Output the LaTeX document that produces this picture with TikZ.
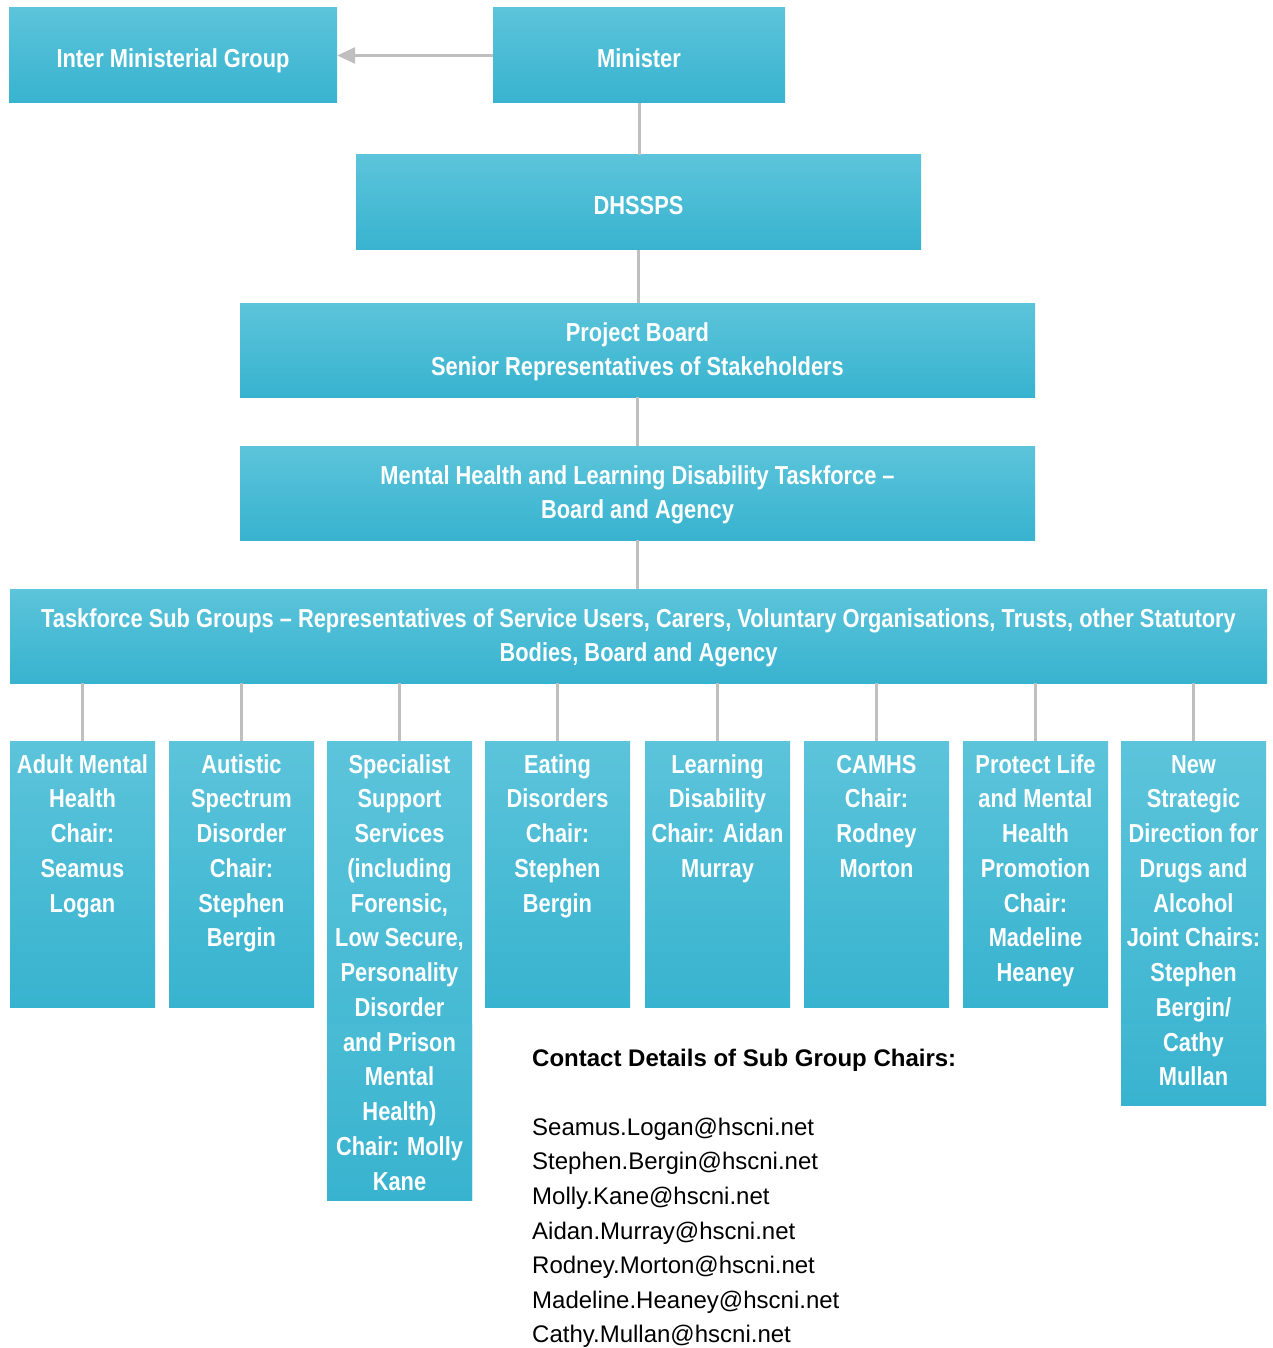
\documentclass[tikz,border=0pt]{standalone}
\usepackage{fontspec}
\setmainfont{Liberation Sans}
\newfontfamily\condfont[FakeStretch=0.84,Ligatures=TeX]{Liberation Sans}
\usetikzlibrary{arrows.meta}
\definecolor{boxtop}{HTML}{5CC4DB}
\definecolor{boxbot}{HTML}{38B3CF}
\definecolor{seamtop}{HTML}{66C8DD}
\definecolor{conngray}{HTML}{BFBFBF}
\begin{document}
\begin{tikzpicture}[x=1pt,y=-1pt,
  box/.style={inner sep=0pt, top color=boxtop, bottom color=boxbot, draw=none},
  boxtext/.style={inner sep=0pt, text=white,
    font=\condfont\bfseries\fontsize{26}{34.5}\selectfont, align=center},
  subbox/.style={inner sep=0pt, top color=boxtop, bottom color=boxbot, draw=none, text=white,
    font=\condfont\bfseries\fontsize{26}{34.75}\selectfont, anchor=north},
  link/.style={draw=conngray, line width=3pt}]
\path[use as bounding box, fill=white] (0,0) rectangle (1273,1348);

\node[box, minimum width=328pt, minimum height=95pt] (img) at (173,55.5) {};
\node[box, minimum width=292pt, minimum height=95pt] (min) at (639,55.5) {};
\node[box, minimum width=565pt, minimum height=95pt] (dh) at (638.5,202.5) {};
\node[box, minimum width=795pt, minimum height=94pt] (pb) at (637.5,350) {};
\node[box, minimum width=795pt, minimum height=94pt] (mh) at (637.5,493) {};
\node[box, minimum width=1257pt, minimum height=94pt] (tsg) at (638.5,636) {};

\node[boxtext, text depth=0pt] (imgt) at ([yshift=-2.5pt]img.center) {Inter Ministerial Group};
\node[boxtext, text depth=0pt] (mint) at ([yshift=-2.5pt]min.center) {Minister};
\node[boxtext, text depth=0pt] (dht) at ([yshift=-2.5pt]dh.center) {DHSSPS};
\node[boxtext] (pbt) at ([yshift=-2pt]pb.center) {Project Board\\Senior Representatives of Stakeholders};
\node[boxtext] (mht) at ([yshift=-2pt]mh.center) {Mental Health and Learning Disability Taskforce –\\Board and Agency};
\node[boxtext] (tsgt) at ([yshift=-2pt]tsg.center) {Taskforce Sub Groups – Representatives of Service Users, Carers, Voluntary Organisations, Trusts, other Statutory\\Bodies, Board and Agency};

\newcommand{\subtext}[2]{\parbox[t][#1][t]{145pt}{\centering\rule{0pt}{32pt}#2}}
\node[subbox] (s1) at (82.5,741) {\subtext{266pt}{Adult Mental\\Health\\Chair:\\Seamus\\Logan}};
\node[subbox] (s2) at (241.5,741) {\subtext{266pt}{Autistic\\Spectrum\\Disorder\\Chair:\\Stephen\\Bergin}};
\node[subbox, path picture={\shade[top color=seamtop, bottom color=boxbot] ([yshift=176pt]path picture bounding box.south west) rectangle (path picture bounding box.south east);}] (s3) at (399.5,741) {\subtext{459pt}{Specialist\\Support\\Services\\(including\\Forensic,\\Low Secure,\\Personality\\Disorder\\and Prison\\Mental\\Health)\\Chair: Molly\\Kane}};
\node[subbox] (s4) at (557.5,741) {\subtext{266pt}{Eating\\Disorders\\Chair:\\Stephen\\Bergin}};
\node[subbox] (s5) at (717.5,741) {\subtext{266pt}{Learning\\Disability\\Chair: Aidan\\Murray}};
\node[subbox] (s6) at (876.5,741) {\subtext{266pt}{CAMHS\\Chair:\\Rodney\\Morton}};
\node[subbox] (s7) at (1035.5,741) {\subtext{266pt}{Protect Life\\and Mental\\Health\\Promotion\\Chair:\\Madeline\\Heaney}};
\node[subbox, path picture={\shade[top color=seamtop, bottom color=boxbot] ([yshift=81pt]path picture bounding box.south west) rectangle (path picture bounding box.south east);}] (s8) at (1193.5,741) {\subtext{364pt}{New\\Strategic\\Direction for\\Drugs and\\Alcohol\\Joint Chairs:\\Stephen\\Bergin/\\Cathy\\Mullan}};

\draw[link, -{Triangle[length=18pt,width=16pt]}] (min.west) -- (img.east);
\draw[link] (min.south) -- (min.south |- dh.north);
\draw[link] (dh.south) -- (dh.south |- pb.north);
\draw[link] (pb.south) -- (pb.south |- mh.north);
\draw[link] (mh.south) -- (mh.south |- tsg.north);
\foreach \s in {s1,s2,s3,s4,s5,s6,s7,s8}
  \draw[link] (\s.north) -- (\s.north |- tsg.south);

\node[anchor=north west, align=left, inner sep=0pt, font=\fontsize{24}{34.6}\selectfont] (contact) at (532,1048.5)
 {\textbf{Contact Details of Sub Group Chairs:}\\[34.6pt]
  Seamus.Logan@hscni.net\\
  Stephen.Bergin@hscni.net\\
  Molly.Kane@hscni.net\\
  Aidan.Murray@hscni.net\\
  Rodney.Morton@hscni.net\\
  Madeline.Heaney@hscni.net\\
  Cathy.Mullan@hscni.net};
\end{tikzpicture}
\end{document}
